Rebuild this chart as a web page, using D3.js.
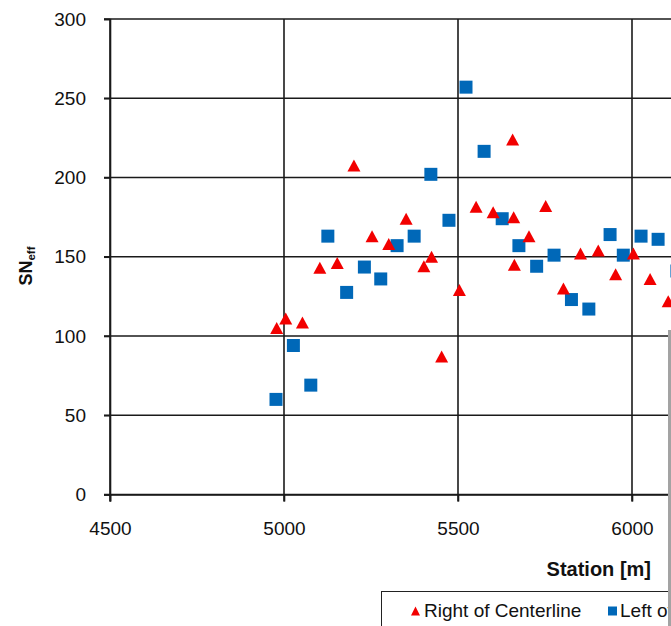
<!DOCTYPE html>
<html>
<head>
<meta charset="utf-8">
<script src="https://cdn.jsdelivr.net/npm/d3@7"></script>
<style>
  html, body { margin: 0; padding: 0; background: #fff; }
  svg { display: block; }
  text { font-family: "Liberation Sans", Arial, sans-serif; fill: #111; }
</style>
</head>
<body>
<svg id="chart" width="671" height="626"></svg>
<script>
// Effective structural number along the station, per side of the centerline
const rightStations = [4979, 5005, 5053, 5103, 5153, 5201, 5253, 5301, 5351, 5402, 5424, 5453,
  5504, 5552, 5601, 5657, 5660, 5662, 5704, 5752, 5803, 5852, 5903, 5953, 6004, 6052, 6104];
const rightSN = [105, 111, 108.5, 143, 146, 207.5, 163, 158, 174, 144, 150, 87,
  129, 181.5, 178, 224, 175, 145, 163, 182, 130, 152, 154, 139, 152, 136, 122];

const leftStations = [4977, 5027, 5077, 5126, 5180, 5231, 5278, 5325, 5374, 5422, 5474, 5523,
  5575, 5627, 5675, 5726, 5776, 5826, 5876, 5937, 5975, 6026, 6075, 6129];
const leftSN = [60, 94, 69, 163, 127.5, 143.5, 136, 157, 163, 202, 173, 257,
  216.5, 174, 157, 144, 151, 123, 117, 164, 151, 163, 161, 141];

const xTicks = [4500, 5000, 5500, 6000];
const yTicks = [0, 50, 100, 150, 200, 250, 300];

const seriesNames = ["Right of Centerline", "Left of Centerline"];
const colors = { right: "#f20000", left: "#0068b8" };

const svg = d3.select("#chart");

const x = d3.scaleLinear().domain([4500, 6500]).range([110, 806]);
const y = d3.scaleLinear().domain([0, 300]).range([494.5, 19]);

// gridlines
const grid = svg.append("g").attr("stroke", "#1a1a1a").attr("stroke-width", 1.6);
grid.selectAll("line.h").data(yTicks).join("line")
  .attr("x1", x(4500) - 6).attr("x2", x(6500))
  .attr("y1", d => y(d)).attr("y2", d => y(d));
grid.selectAll("line.v").data(xTicks).join("line")
  .attr("x1", d => x(d)).attr("x2", d => x(d))
  .attr("y1", y(300)).attr("y2", y(0) + 7);

const labelFont = "'Liberation Sans', Arial, sans-serif";

// y axis
const yAxis = d3.axisLeft(y).tickValues(yTicks).tickSize(6).tickPadding(18).tickFormat(d3.format("d"));
const gy = svg.append("g").attr("transform", `translate(${x(4500)},0)`).call(yAxis);
gy.select(".domain").attr("stroke", "#1a1a1a").attr("stroke-width", 1.6);
gy.selectAll(".tick line").attr("stroke", "#1a1a1a").attr("stroke-width", 1.6);
gy.selectAll(".tick text").attr("font-size", 19).attr("fill", "#222").style("font-family", labelFont);

// x axis
const xAxis = d3.axisBottom(x).tickValues(xTicks).tickSize(7).tickPadding(20).tickFormat(d3.format("d"));
const gx = svg.append("g").attr("transform", `translate(0,${y(0)})`).call(xAxis);
gx.select(".domain").attr("stroke", "#1a1a1a").attr("stroke-width", 1.6);
gx.selectAll(".tick line").attr("stroke", "#1a1a1a").attr("stroke-width", 1.6);
gx.selectAll(".tick text").attr("font-size", 19).attr("fill", "#222").style("font-family", labelFont);

// axis titles
svg.append("text")
  .attr("x", 651).attr("y", 576)
  .attr("text-anchor", "end")
  .attr("font-size", 20).attr("font-weight", "bold")
  .text("Station [m]");

const yTitle = svg.append("text")
  .attr("transform", "translate(32,266) rotate(-90)")
  .attr("text-anchor", "middle")
  .attr("font-size", 18).attr("font-weight", "bold");
yTitle.append("tspan").text("SN");
yTitle.append("tspan").attr("font-size", 11.5).attr("dy", 3).text("eff");

// markers
const triPath = (w, h) => `M0,${-h / 2}L${w / 2},${h / 2}L${-w / 2},${h / 2}Z`;
const sqPath = s => `M${-s / 2},${-s / 2}h${s}v${s}h${-s}Z`;

const rightData = rightStations.map((s, i) => ({ s, v: rightSN[i] }));
const leftData = leftStations.map((s, i) => ({ s, v: leftSN[i] }));

svg.append("g").selectAll("path").data(leftData).join("path")
  .attr("d", sqPath(13))
  .attr("fill", colors.left)
  .attr("transform", d => `translate(${x(d.s)},${y(d.v)})`);

svg.append("g").selectAll("path").data(rightData).join("path")
  .attr("d", triPath(13, 12))
  .attr("fill", colors.right)
  .attr("transform", d => `translate(${x(d.s)},${y(d.v)})`);

// legend
const lg = svg.append("g");
lg.append("rect")
  .attr("x", 381.5).attr("y", 591.5).attr("width", 400).attr("height", 60)
  .attr("fill", "#fff").attr("stroke", "#222").attr("stroke-width", 1);
lg.append("path").attr("d", triPath(9, 9)).attr("fill", colors.right)
  .attr("transform", "translate(415.5,611)");
lg.append("text").attr("x", 424).attr("y", 617).attr("font-size", 19).attr("fill", "#222")
  .text(seriesNames[0]);
lg.append("path").attr("d", sqPath(9)).attr("fill", colors.left)
  .attr("transform", "translate(612.5,611)");
lg.append("text").attr("x", 620).attr("y", 617).attr("font-size", 19).attr("fill", "#222")
  .text(seriesNames[1]);

// window edge strip
svg.append("rect").attr("x", 668).attr("y", 330).attr("width", 3).attr("height", 296)
  .attr("fill", "#a3a3a3");
</script>
</body>
</html>
